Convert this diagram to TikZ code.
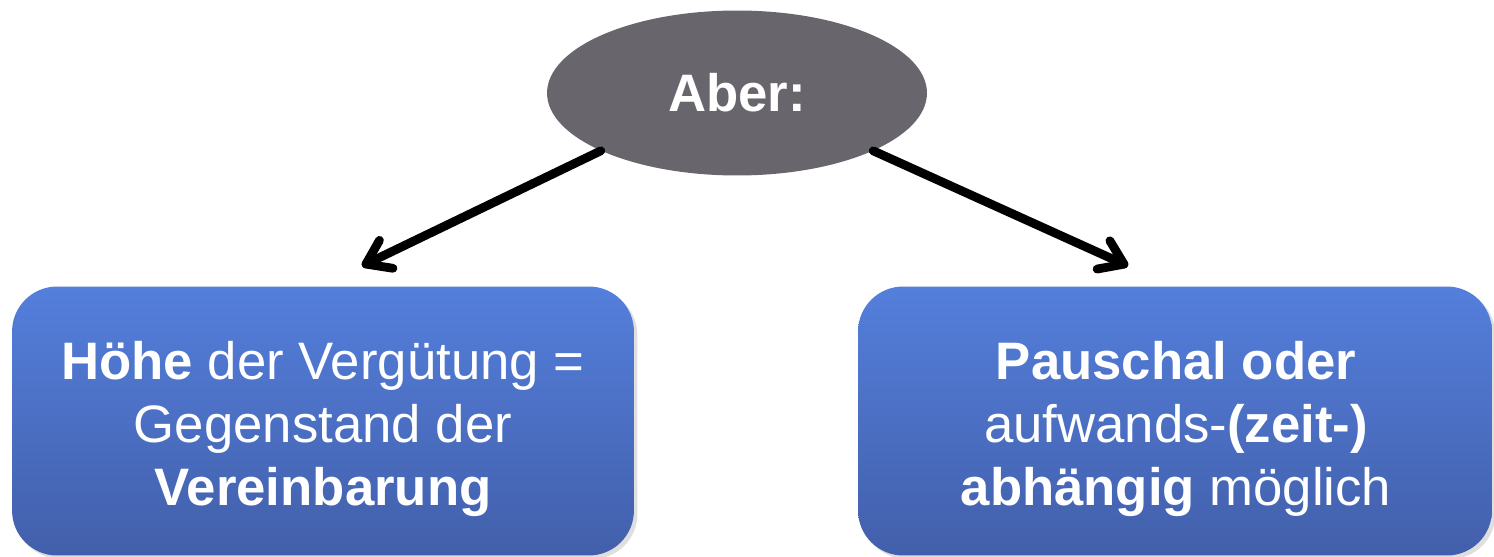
\documentclass[tikz,border=0pt]{standalone}
\usepackage{fontspec}
\setmainfont{Liberation Sans}
\usetikzlibrary{shapes.geometric,arrows.meta,shadows}
\definecolor{ovalgrau}{RGB}{104,102,108}
\definecolor{blauoben}{RGB}{84,127,220}
\definecolor{blauunten}{RGB}{66,95,170}
\tikzset{
	kasten/.style={rounded corners=0.9cm, minimum width=12.44cm, minimum height=5.38cm,
		top color=blauoben, bottom color=blauunten, draw=none,
		drop shadow={opacity=0.25, shadow xshift=2pt, shadow yshift=-2pt}},
	kastentext/.style={text=white, align=center, font=\fontsize{30}{35.8}\selectfont},
	pfeil/.style={line width=5pt, line cap=round, line join=round,
		-{Straight Barb[length=0.45cm, width=0.62cm, line cap=round, line join=round]}}
}
\begin{document}
\begin{tikzpicture}[x=0.02cm, y=-0.02cm]
	\useasboundingbox (0,0) rectangle (1494,557);
	% Oval oben
	\node [ellipse, fill=ovalgrau, minimum width=7.6cm, minimum height=3.3cm, inner sep=0pt,
		text=white, font=\fontsize{30}{36}\selectfont\bfseries] (aber) at (737,93) {Aber:};
	% linker Kasten
	\node [kasten] (hoehe) at (323,421) {};
	\node [kastentext] (hoehetext) at (323,429) {\textbf{Höhe} der Vergütung =\\Gegenstand der\\\textbf{Vereinbarung}};
	% rechter Kasten
	\node [kasten, minimum width=12.68cm] (pauschal) at (1175,421) {};
	\node [kastentext] (pauschaltext) at (1176,429) {\textbf{Pauschal oder}\\aufwands-\textbf{(zeit-)}\\\textbf{abhängig} möglich};
	% Pfeilspitzen
	\coordinate (spitzeL) at (362,266);
	\coordinate (spitzeR) at (1128,266);
	% Pfeile
	\draw [pfeil] (aber.203.8) -- (spitzeL);
	\draw [pfeil] (aber.-23.8) -- (spitzeR);
\end{tikzpicture}
\end{document}
